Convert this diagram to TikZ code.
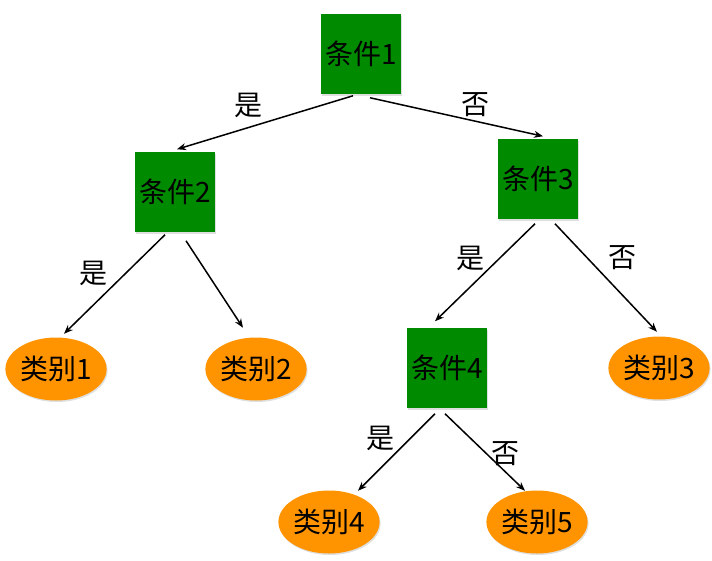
\documentclass[tikz,border=0pt]{standalone}
\usepackage{fontspec}
\setmainfont{Noto Sans CJK SC}
\usetikzlibrary{shapes.geometric,arrows.meta,shadows}

\definecolor{condgreen}{RGB}{0,138,0}
\definecolor{leaforange}{RGB}{255,148,0}

\tikzset{
  cond/.style={shape=rectangle, fill=condgreen, minimum width=80pt,
    minimum height=80pt, inner sep=0pt,
    drop shadow={opacity=0.25, shadow xshift=1pt, shadow yshift=-1.5pt}},
  leaf/.style={shape=ellipse, fill=leaforange, minimum width=101pt,
    minimum height=63pt, inner sep=0pt,
    drop shadow={opacity=0.25, shadow xshift=1pt, shadow yshift=-1.5pt}},
  answer/.style={inner sep=0pt},
}

\begin{document}
\begin{tikzpicture}[x=1pt, y=-1pt, >={Stealth[length=9pt,width=7pt]},
  font=\fontsize{28}{32}\selectfont, line width=1.5pt]
\useasboundingbox (0,0) rectangle (712,560);

\node[cond] at (361, 54)
(c1) {条件1};

\node[cond] at (175, 192)
(c2) {条件2};

\node[cond] at (538, 179)
(c3) {条件3};

\node[cond] at (447, 368)
(c4) {条件4};

\node[leaf] at ( 56, 369)
(l1) {类别1};
\node[leaf] at (256, 369)
(l2) {类别2};
\node[leaf] at (659, 368)
(l3) {类别3};
\node[leaf] at (329, 522)
(l4) {类别4};
\node[leaf] at (537, 522)
(l5) {类别5};

\path[->]
  ([shift={(-8,1)}]c1.south)   edge ([shift={(2,-2)}]c2.north)
  ([shift={(9,3)}]c1.south)    edge ([shift={(5,-2)}]c3.north)
  ([shift={(-10,2)}]c2.south)  edge ([shift={(8,-3)}]l1.north)
  ([shift={(11,8)}]c2.south)   edge ([shift={(-13,-9)}]l2.north)
  ([shift={(-3,4)}]c3.south)   edge ([shift={(-12,-6)}]c4.north)
  ([shift={(17,4)}]c3.south)   edge ([shift={(-2,-4)}]l3.north)
  ([shift={(-12,5)}]c4.south)  edge ([shift={(29,1)}]l4.north)
  ([shift={(-2,5)}]c4.south)   edge ([shift={(-12,1)}]l5.north)
;

% labels on the branches
\node[answer] at (248, 105) (y1) {是};
\node[answer] at (475, 105) (n1) {否};
\node[answer] at ( 93, 273) (y2) {是};
\node[answer] at (470, 258) (y3) {是};
\node[answer] at (622, 258) (n3) {否};
\node[answer] at (380, 438) (y4) {是};
\node[answer] at (505, 454) (n4) {否};
\end{tikzpicture}
\end{document}
